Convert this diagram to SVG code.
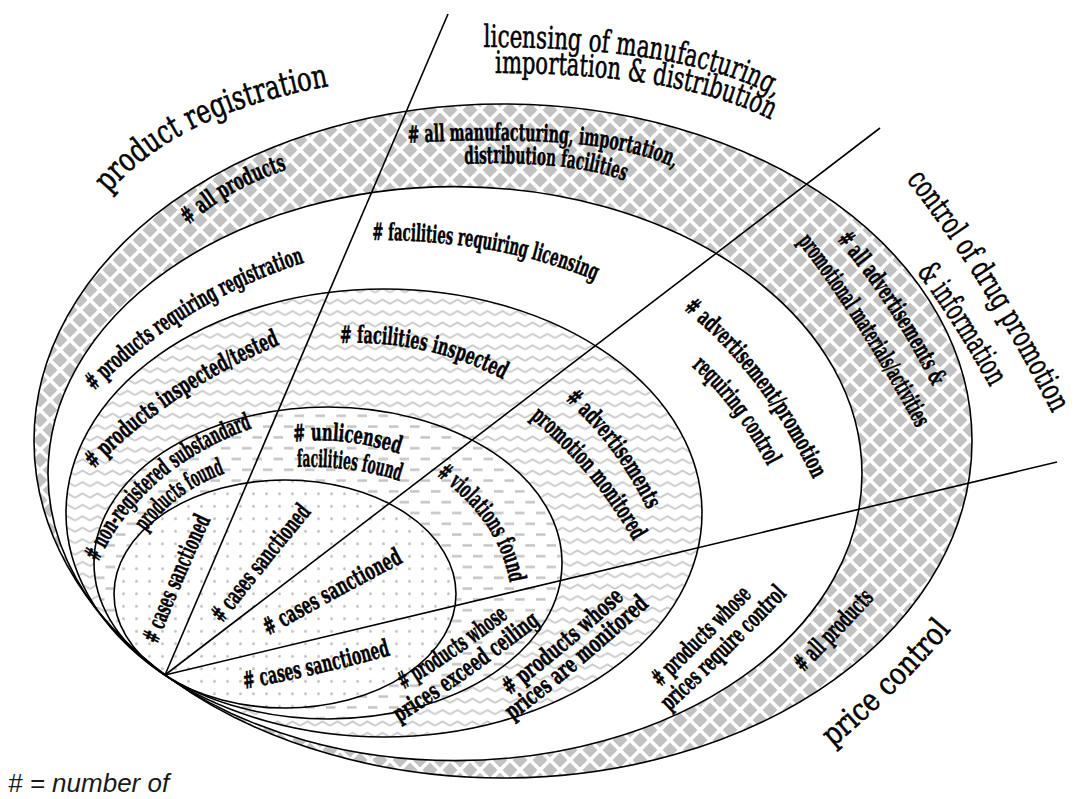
<svg xmlns="http://www.w3.org/2000/svg" xmlns:xlink="http://www.w3.org/1999/xlink" width="1076" height="799" viewBox="0 0 1076 799">
<defs>
<style>
.ring{stroke:#000;stroke-width:1.6;fill:none}
.ln{stroke:#000;stroke-width:1.6;fill:none}
.t{font-family:"DejaVu Serif Condensed","DejaVu Serif","Liberation Serif",serif;font-stretch:condensed;font-weight:bold;font-size:24px;fill:#000;stroke:#000;stroke-width:0.45}
.h{font-family:"DejaVu Serif","Liberation Serif",serif;font-size:31px;fill:#000;stroke:#000;stroke-width:0.6}
.leg{font-family:"Liberation Sans",Arial,sans-serif;font-style:italic;font-size:26px;fill:#1a1a1a}
</style>
<pattern id="pChk" patternUnits="userSpaceOnUse" width="20" height="20">
<rect width="20" height="20" fill="#fff"/>
<path d="M10 2.5L17.5 10L10 17.5L2.5 10Z M0 -7.5L7.5 0L0 7.5L-7.5 0Z M20 -7.5L27.5 0L20 7.5L12.5 0Z M0 12.5L7.5 20L0 27.5L-7.5 20Z M20 12.5L27.5 20L20 27.5L12.5 20Z" fill="#c2c2c2"/>
</pattern>
<pattern id="pZig" patternUnits="userSpaceOnUse" width="15" height="11.4">
<rect width="15" height="11.4" fill="#fff"/>
<path d="M0 7.5L7.5 3.3L15 7.5" stroke="#cbcbcb" stroke-width="1.9" fill="none"/>
</pattern>
<pattern id="pDash" patternUnits="userSpaceOnUse" width="21" height="21.6">
<rect width="21" height="21.6" fill="#fff"/>
<path d="M0.5 5.4H10 M11 16.2H20.5" stroke="#c4c4c4" stroke-width="2.4" fill="none"/>
</pattern>
<pattern id="pDots" patternUnits="userSpaceOnUse" width="13" height="12.5">
<rect width="13" height="12.5" fill="#fff"/>
<circle cx="6.5" cy="6.2" r="1.5" fill="#c2c2c2"/>
</pattern>
<path id="p_prodreg" d="M108,194 Q176,113 330,86"/>
<path id="p_lic1" d="M480,47 Q693,47 778,99"/>
<path id="p_lic2" d="M492,73 Q684,73 773,121"/>
<path id="p_ctl1" d="M896,166 L905,178 Q987,284 1053,415 L1060,429"/>
<path id="p_ctl2" d="M910,259 L916,271 Q956,325 990,387 L997,400"/>
<path id="p_price" d="M832,748 Q895,696 952,629"/>
<path id="p_allprod1" d="M188,226 Q228,189 288,169"/>
<path id="p_allman1" d="M406,143 Q608,132 676,169"/>
<path id="p_allman2" d="M464,164 Q570,160 625,181"/>
<path id="p_alladv1" d="M836,239 Q891,304 933,387"/>
<path id="p_alladv2" d="M797,241 Q859,321 917,429"/>
<path id="p_reqreg" d="M93,392 Q185,300 306,262"/>
<path id="p_reqlic" d="M371,240 Q500,240 596,281"/>
<path id="p_reqadv1" d="M682,308 Q762,372 814,481"/>
<path id="p_reqadv2" d="M691,366 Q736,406 768,467"/>
<path id="p_reqprice1" d="M660,688 Q703,646 753,595"/>
<path id="p_reqprice2" d="M669,712 Q726,659 788,594"/>
<path id="p_allprod2" d="M803,673 Q838,638 875,598"/>
<path id="p_insp" d="M93,470 Q170,390 281,344"/>
<path id="p_facinsp" d="M339,343 Q430,340 504,380"/>
<path id="p_advmon1" d="M564,399 Q616,444 648,511"/>
<path id="p_advmon2" d="M529,417 Q594,471 634,542"/>
<path id="p_nonreg1" d="M97,565 Q139,469 255,427"/>
<path id="p_nonreg2" d="M145,533 Q175,491 226,473"/>
<path id="p_unlic1" d="M293,442 Q345,436 400,454"/>
<path id="p_unlic2" d="M297,467 Q350,465 400,481"/>
<path id="p_viol" d="M434,474 Q500,520 510,585"/>
<path id="p_exc1" d="M403,690 Q458,657 509,617"/>
<path id="p_exc2" d="M399,723 Q472,677 541,623"/>
<path id="p_mon1" d="M509,696 Q569,650 625,598"/>
<path id="p_mon2" d="M512,721 Q583,667 650,605"/>
<path id="p_cs1" d="M157,645 Q182,580 211,519"/>
<path id="p_cs2" d="M222,624 Q266,567 312,512"/>
<path id="p_cs3" d="M268,636 Q335,598 404,562"/>
<path id="p_cs4" d="M244,689 Q320,675 391,655"/>
</defs>

<g id="ring-fills">
<ellipse id="fill-all" cx="503" cy="441" rx="469" ry="337" fill="url(#pChk)"/>
<ellipse id="fill-requiring" cx="455" cy="473.6" rx="407" ry="287" fill="#fff"/>
<ellipse id="fill-inspected" cx="384" cy="513" rx="318" ry="224" fill="url(#pZig)"/>
<ellipse id="fill-found" cx="328" cy="563" rx="234" ry="156" fill="url(#pDash)"/>
<ellipse id="fill-sanctioned" cx="285" cy="594" rx="171" ry="114" fill="url(#pDots)"/>
</g>

<g id="node-all"><ellipse class="ring" cx="503" cy="441" rx="469" ry="337"/></g>
<g id="node-requiring"><ellipse class="ring" cx="455" cy="473.6" rx="407" ry="287"/></g>
<g id="node-inspected"><ellipse class="ring" cx="384" cy="513" rx="318" ry="224"/></g>
<g id="node-found"><ellipse class="ring" cx="328" cy="563" rx="234" ry="156"/></g>
<g id="node-sanctioned"><ellipse class="ring" cx="285" cy="594" rx="171" ry="114"/></g>

<g id="connectors">
<line class="ln" x1="165" y1="675" x2="448" y2="14"/>
<line class="ln" x1="165" y1="675" x2="880" y2="128"/>
<line class="ln" x1="165" y1="675" x2="1057" y2="462"/>
</g>

<g id="sector-titles">
<text class="h" style="font-size:33px"><textPath href="#p_prodreg" startOffset="50%" text-anchor="middle" textLength="250" lengthAdjust="spacingAndGlyphs">product registration</textPath></text>
<text class="h"><textPath href="#p_lic1" startOffset="50%" text-anchor="middle" textLength="299" lengthAdjust="spacingAndGlyphs">licensing of manufacturing,</textPath></text>
<text class="h"><textPath href="#p_lic2" startOffset="50%" text-anchor="middle" textLength="282" lengthAdjust="spacingAndGlyphs">importation &amp; distribution</textPath></text>
<text class="h"><textPath href="#p_ctl1" startOffset="50%" text-anchor="middle" textLength="276" lengthAdjust="spacingAndGlyphs">control of drug promotion</textPath></text>
<text class="h"><textPath href="#p_ctl2" startOffset="50%" text-anchor="middle" textLength="137" lengthAdjust="spacingAndGlyphs">&amp; information</textPath></text>
<text class="h"><textPath href="#p_price" startOffset="50%" text-anchor="middle" textLength="167" lengthAdjust="spacingAndGlyphs">price control</textPath></text>
</g>

<g id="labels-all">
<text class="t"><textPath href="#p_allprod1" startOffset="50%" text-anchor="middle" textLength="114" lengthAdjust="spacingAndGlyphs"># all products</textPath></text>
<text class="t"><textPath href="#p_allman1" startOffset="50%" text-anchor="middle" textLength="270" lengthAdjust="spacingAndGlyphs"># all manufacturing, importation,</textPath></text>
<text class="t"><textPath href="#p_allman2" startOffset="50%" text-anchor="middle" textLength="162" lengthAdjust="spacingAndGlyphs">distribution facilities</textPath></text>
<text class="t"><textPath href="#p_alladv1" startOffset="50%" text-anchor="middle" textLength="176" lengthAdjust="spacingAndGlyphs"># all advertisements &amp;</textPath></text>
<text class="t"><textPath href="#p_alladv2" startOffset="50%" text-anchor="middle" textLength="222" lengthAdjust="spacingAndGlyphs">promotional materials/activities</textPath></text>
<text class="t"><textPath href="#p_allprod2" startOffset="50%" text-anchor="middle" textLength="103" lengthAdjust="spacingAndGlyphs"># all products</textPath></text>
</g>

<g id="labels-requiring">
<text class="t"><textPath href="#p_reqreg" startOffset="50%" text-anchor="middle" textLength="249" lengthAdjust="spacingAndGlyphs"># products requiring registration</textPath></text>
<text class="t"><textPath href="#p_reqlic" startOffset="50%" text-anchor="middle" textLength="228" lengthAdjust="spacingAndGlyphs"># facilities requiring licensing</textPath></text>
<text class="t"><textPath href="#p_reqadv1" startOffset="50%" text-anchor="middle" textLength="216" lengthAdjust="spacingAndGlyphs"># advertisement/promotion</textPath></text>
<text class="t"><textPath href="#p_reqadv2" startOffset="50%" text-anchor="middle" textLength="126" lengthAdjust="spacingAndGlyphs">requiring control</textPath></text>
<text class="t"><textPath href="#p_reqprice1" startOffset="50%" text-anchor="middle" textLength="130" lengthAdjust="spacingAndGlyphs"># products whose</textPath></text>
<text class="t"><textPath href="#p_reqprice2" startOffset="50%" text-anchor="middle" textLength="166" lengthAdjust="spacingAndGlyphs">prices require control</textPath></text>
</g>

<g id="labels-inspected">
<text class="t"><textPath href="#p_insp" startOffset="50%" text-anchor="middle" textLength="226" lengthAdjust="spacingAndGlyphs"># products inspected/tested</textPath></text>
<text class="t"><textPath href="#p_facinsp" startOffset="50%" text-anchor="middle" textLength="169" lengthAdjust="spacingAndGlyphs"># facilities inspected</textPath></text>
<text class="t"><textPath href="#p_advmon1" startOffset="50%" text-anchor="middle" textLength="139" lengthAdjust="spacingAndGlyphs"># advertisements</textPath></text>
<text class="t"><textPath href="#p_advmon2" startOffset="50%" text-anchor="middle" textLength="162" lengthAdjust="spacingAndGlyphs">promotion monitored</textPath></text>
<text class="t"><textPath href="#p_mon1" startOffset="50%" text-anchor="middle" textLength="151" lengthAdjust="spacingAndGlyphs"># products whose</textPath></text>
<text class="t"><textPath href="#p_mon2" startOffset="50%" text-anchor="middle" textLength="179" lengthAdjust="spacingAndGlyphs">prices are monitored</textPath></text>
</g>

<g id="labels-found">
<text class="t"><textPath href="#p_nonreg1" startOffset="50%" text-anchor="middle" textLength="210" lengthAdjust="spacingAndGlyphs"># non-registered substandard</textPath></text>
<text class="t"><textPath href="#p_nonreg2" startOffset="50%" text-anchor="middle" textLength="100" lengthAdjust="spacingAndGlyphs">products found</textPath></text>
<text class="t"><textPath href="#p_unlic1" startOffset="50%" text-anchor="middle" textLength="107" lengthAdjust="spacingAndGlyphs"># unlicensed</textPath></text>
<text class="t"><textPath href="#p_unlic2" startOffset="50%" text-anchor="middle" textLength="104" lengthAdjust="spacingAndGlyphs">facilities found</textPath></text>
<text class="t"><textPath href="#p_viol" startOffset="50%" text-anchor="middle" textLength="134" lengthAdjust="spacingAndGlyphs"># violations found</textPath></text>
<text class="t"><textPath href="#p_exc1" startOffset="50%" text-anchor="middle" textLength="128" lengthAdjust="spacingAndGlyphs"># products whose</textPath></text>
<text class="t"><textPath href="#p_exc2" startOffset="50%" text-anchor="middle" textLength="173" lengthAdjust="spacingAndGlyphs">prices exceed ceiling</textPath></text>
</g>

<g id="labels-sanctioned">
<text class="t"><textPath href="#p_cs1" startOffset="50%" text-anchor="middle" textLength="136" lengthAdjust="spacingAndGlyphs"># cases sanctioned</textPath></text>
<text class="t"><textPath href="#p_cs2" startOffset="50%" text-anchor="middle" textLength="143" lengthAdjust="spacingAndGlyphs"># cases sanctioned</textPath></text>
<text class="t"><textPath href="#p_cs3" startOffset="50%" text-anchor="middle" textLength="154" lengthAdjust="spacingAndGlyphs"># cases sanctioned</textPath></text>
<text class="t"><textPath href="#p_cs4" startOffset="50%" text-anchor="middle" textLength="150" lengthAdjust="spacingAndGlyphs"># cases sanctioned</textPath></text>
</g>

<g id="legend">
<text class="leg" x="8" y="792"># = number of</text>
</g>
</svg>
